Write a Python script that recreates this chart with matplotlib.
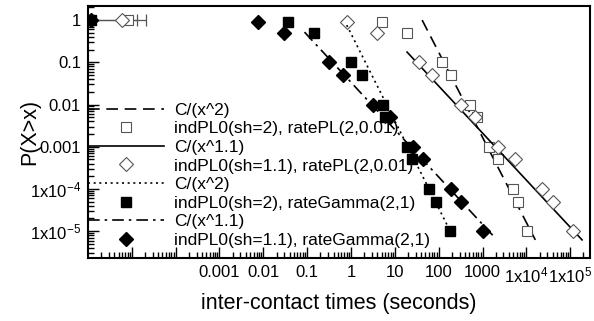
import matplotlib
matplotlib.use('Agg')
import matplotlib.pyplot as plt
from matplotlib.ticker import LogLocator, NullFormatter, FixedLocator, FixedFormatter

plt.rcParams['font.family'] = ['Liberation Sans', 'DejaVu Sans']
plt.rcParams['mathtext.default'] = 'regular'

# CCDF levels shared by all series
levels = [1, 0.9, 0.5, 0.1, 0.05, 0.01, 0.005, 0.001, 5e-4, 1e-4, 5e-5, 1e-5]

# x positions (seconds)
sq_open_x = [8.3e-6, 5.0, 19, 120, 195, 510, 740, 1380, 2200, 4900, 6400, 10200]
dia_open_x = [6.0e-6, 0.8, 3.9, 36, 71, 330, 660, 2200, 5500, 23000, 40000, 117000]
sq_fill_x = [1.2e-6, 0.037, 0.14, 1.0, 1.8, 5.4, 5.9, 19, 25, 61, 88, 185]
dia_fill_x = [1.2e-6, 0.0076, 0.029, 0.31, 0.65, 3.2, 7.7, 26, 44, 195, 315, 1000]

# error bars at P=1 (low, high)
dia_open_err = [1.2e-6, 1.3e-5]
sq_open_err = [1.2e-6, 2.1e-5]

# fitted power-law lines, endpoints (x, y)
fit_sq_open_x = [42, 16000]
fit_sq_open_y = [1.0, 6.2e-6]
fit_dia_open_x = [19, 186000]
fit_dia_open_y = [0.175, 6.2e-6]
fit_sq_fill_x = [0.8, 204]
fit_sq_fill_y = [0.76, 8e-6]
fit_dia_fill_x = [0.087, 1700]
fit_dia_fill_y = [0.52, 8e-6]

labels = ['C/(x^2)', 'indPL0(sh=2), ratePL(2,0.01)',
          'C/(x^1.1)', 'indPL0(sh=1.1), ratePL(2,0.01)',
          'C/(x^2)', 'indPL0(sh=2), rateGamma(2,1)',
          'C/(x^1.1)', 'indPL0(sh=1.1), rateGamma(2,1)']

fig = plt.figure(figsize=(5.94, 3.21), dpi=100)
ax = fig.add_axes([0.148, 0.196, 0.845, 0.785])

lw = 1.2
gray = '#555555'

# error bars first so markers sit on top
ax.errorbar([dia_open_x[0]], [1], xerr=[[dia_open_x[0] - dia_open_err[0]], [dia_open_err[1] - dia_open_x[0]]],
            fmt='none', ecolor=gray, elinewidth=0.9, capsize=4, capthick=0.9)
ax.errorbar([sq_open_x[0]], [1], xerr=[[sq_open_x[0] - sq_open_err[0]], [sq_open_err[1] - sq_open_x[0]]],
            fmt='none', ecolor=gray, elinewidth=0.9, capsize=4, capthick=0.9)

ax.plot(fit_sq_open_x, fit_sq_open_y, color='black', lw=lw, ls=(0, (7, 4)), label=labels[0])
ax.plot(sq_open_x, levels, ls='none', marker='s', ms=7, mfc='white', mec=gray, mew=0.8, label=labels[1])
ax.plot(fit_dia_open_x, fit_dia_open_y, color='black', lw=lw, ls='-', label=labels[2])
ax.plot(dia_open_x, levels, ls='none', marker='D', ms=7.2, mfc='white', mec=gray, mew=0.8, label=labels[3])
ax.plot(fit_sq_fill_x, fit_sq_fill_y, color='black', lw=lw, ls=(0, (1.2, 2.2)), label=labels[4])
ax.plot(sq_fill_x, levels, ls='none', marker='s', ms=7, mfc='black', mec='black', label=labels[5])
ax.plot(fit_dia_fill_x, fit_dia_fill_y, color='black', lw=lw, ls=(0, (7, 3, 1.5, 3)), label=labels[6])
ax.plot(dia_fill_x, levels, ls='none', marker='D', ms=7, mfc='black', mec='black', label=labels[7])

ax.set_xscale('log')
ax.set_yscale('log')
ax.set_xlim(1e-6, 2.8e5)
ax.set_ylim(2.3e-6, 2.15)

xt = [1e-5, 1e-4, 1e-3, 1e-2, 1e-1, 1, 10, 100, 1000, 1e4, 1e5]
xl = ['', '', '0.001', '0.01', '0.1', '1', '10', '100', '1000', '1x10$^{4}$', '1x10$^{5}$']
ax.xaxis.set_major_locator(FixedLocator(xt))
ax.xaxis.set_major_formatter(FixedFormatter(xl))
yt = [1e-5, 1e-4, 1e-3, 1e-2, 1e-1, 1]
yl = ['1x10$^{-5}$', '1x10$^{-4}$', '0.001', '0.01', '0.1', '1']
ax.yaxis.set_major_locator(FixedLocator(yt))
ax.yaxis.set_major_formatter(FixedFormatter(yl))
for a in (ax.xaxis, ax.yaxis):
    a.set_minor_locator(LogLocator(base=10, subs=range(2, 10), numticks=30))
    a.set_minor_formatter(NullFormatter())

ax.tick_params(which='both', direction='in', top=False, right=False, width=1.0, labelsize=12)
ax.tick_params(which='major', length=8, pad=5)
ax.tick_params(which='minor', length=4)
for s in ax.spines.values():
    s.set_linewidth(1.5)

ax.set_xlabel('inter-contact times (seconds)', fontsize=15.5, labelpad=6)
ax.set_ylabel('P(X>x)', fontsize=15.5)
ax.yaxis.set_label_coords(-0.095, 0.5)

ax.legend(loc='lower left', bbox_to_anchor=(0.0, 0.04), frameon=False, fontsize=12.5,
          handlelength=4.4, handletextpad=0.55, labelspacing=0.2, borderpad=0,
          borderaxespad=0, numpoints=1)

fig.savefig('out.png', dpi=100)
